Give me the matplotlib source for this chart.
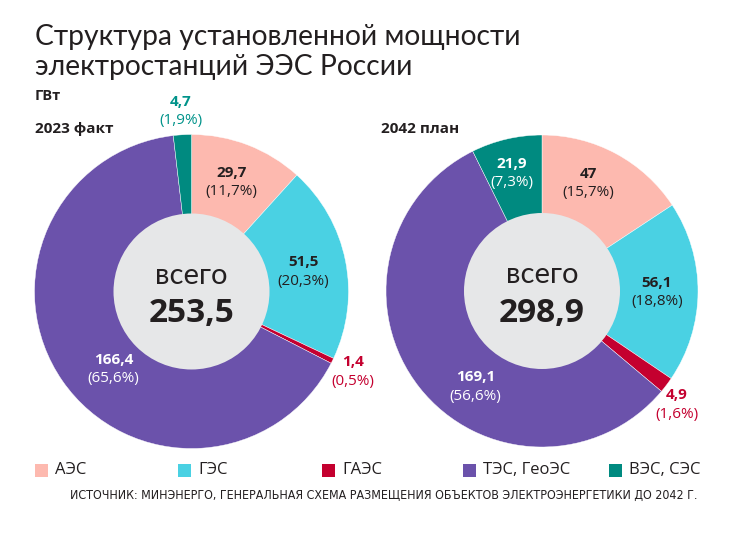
import numpy as np
import matplotlib
matplotlib.use("Agg")
import matplotlib.pyplot as plt
from matplotlib.patches import Circle, Rectangle

plt.rcParams['font.family'] = ['Open Sans', 'DejaVu Sans']

# ---- data ----
categories = ["АЭС", "ГЭС", "ГАЭС", "ТЭС, ГеоЭС", "ВЭС, СЭС"]
values_2023 = [29.7, 51.5, 1.4, 166.4, 4.7]
pct_2023 = ["11,7%", "20,3%", "0,5%", "65,6%", "1,9%"]
vlab_2023 = ["29,7", "51,5", "1,4", "166,4", "4,7"]
total_2023 = "253,5"
values_2042 = [47, 56.1, 4.9, 169.1, 21.9]
pct_2042 = ["15,7%", "18,8%", "1,6%", "56,6%", "7,3%"]
vlab_2042 = ["47", "56,1", "4,9", "169,1", "21,9"]
total_2042 = "298,9"

colors = ["#FDB9AF", "#4AD1E3", "#C4002F", "#6B52AB", "#008A80"]
DARK = "#231F20"

W, H = 733, 534
fig = plt.figure(figsize=(W / 100, H / 100), dpi=100)
ax = fig.add_axes([0, 0, 1, 1])
ax.set_xlim(0, W)
ax.set_ylim(0, H)
ax.set_aspect('equal')
ax.axis('off')


def Y(y):
    return H - y


# label styles per slice: (radius, angle offset deg, value color, pct color)
style_2023 = [(117, -1, DARK, DARK), (114, 1, DARK, DARK), (180, 0, "#C4002F", "#C4002F"),
              (110, -10, "white", "white"), (181, 0, "#00938A", "#00938A")]
style_2042 = [(118, -5, DARK, DARK), (115, 0, DARK, DARK), (176, 3, "#C4002F", "#C4002F"),
              (116, -17, "white", "white"), (122, -1, "white", "white")]


def draw(cx, cy, r, values, vlabs, pcts, total, styles, title, tx):
    ax.pie(values, colors=colors, startangle=90, counterclock=False,
           center=(cx, Y(cy)), radius=r, frame=True,
           wedgeprops=dict(linewidth=0.3, edgecolor="white"))
    ax.add_patch(Circle((cx, Y(cy)), 78, facecolor="#E6E7E8", edgecolor="none", zorder=3))
    ax.text(cx, Y(cy - 16), "всего", ha="center", va="center", fontsize=21,
            color=DARK, zorder=4, family=["Lato", "Open Sans"])
    ax.text(cx, Y(cy + 22), total, ha="center", va="center", fontsize=24,
            fontweight="bold", color=DARK, zorder=4)
    tot = sum(values)
    start = 0.0
    for v, vl, p, (lr, doff, c1, c2) in zip(values, vlabs, pcts, styles):
        span = v / tot * 360
        mid = np.deg2rad(start + span / 2 + doff)
        lx = cx + lr * np.sin(mid)
        ly = cy - lr * np.cos(mid)
        ax.text(lx, Y(ly - 9), vl, ha="center", va="center", fontsize=11,
                fontweight="bold", color=c1, zorder=5)
        ax.text(lx, Y(ly + 10), "(" + p + ")", ha="center", va="center",
                fontsize=11, color=c2, zorder=5)
        start += span
    ax.text(tx, Y(129), title, ha="left", va="center", fontsize=11,
            fontweight="bold", color=DARK)


draw(191.5, 291.5, 157, values_2023, vlab_2023, pct_2023, total_2023, style_2023, "2023 факт", 35)
draw(542, 291, 156, values_2042, vlab_2042, pct_2042, total_2042, style_2042, "2042 план", 381)
ax.set_xlim(0, W)
ax.set_ylim(0, H)
ax.axis('off')

# title
for txt, yb in [("Структура установленной мощности", 45), ("электростанций ЭЭС России", 75)]:
    ax.text(35, Y(yb), txt, ha="left", va="baseline", fontsize=20.3, color=DARK,
            family=["Lato", "Open Sans"])
ax.text(35, Y(96), "ГВт", ha="left", va="center", fontsize=10.5, fontweight="bold", color=DARK)

# legend
leg_x = [35, 178, 322, 463, 609]
for x, c, lab in zip(leg_x, colors, categories):
    ax.add_patch(Rectangle((x, Y(477)), 13, 13, facecolor=c, edgecolor="none"))
    ax.text(x + 20, Y(470.5), lab, ha="left", va="center", fontsize=12, color=DARK)

ax.text(698, Y(495), "ИСТОЧНИК: МИНЭНЕРГО, ГЕНЕРАЛЬНАЯ СХЕМА РАЗМЕЩЕНИЯ ОБЪЕКТОВ ЭЛЕКТРОЭНЕРГЕТИКИ ДО 2042 Г.",
        ha="right", va="center", fontsize=8.9, color=DARK,
        family=["DejaVu Sans"], fontstretch="condensed")

fig.savefig("out.png", dpi=100)
